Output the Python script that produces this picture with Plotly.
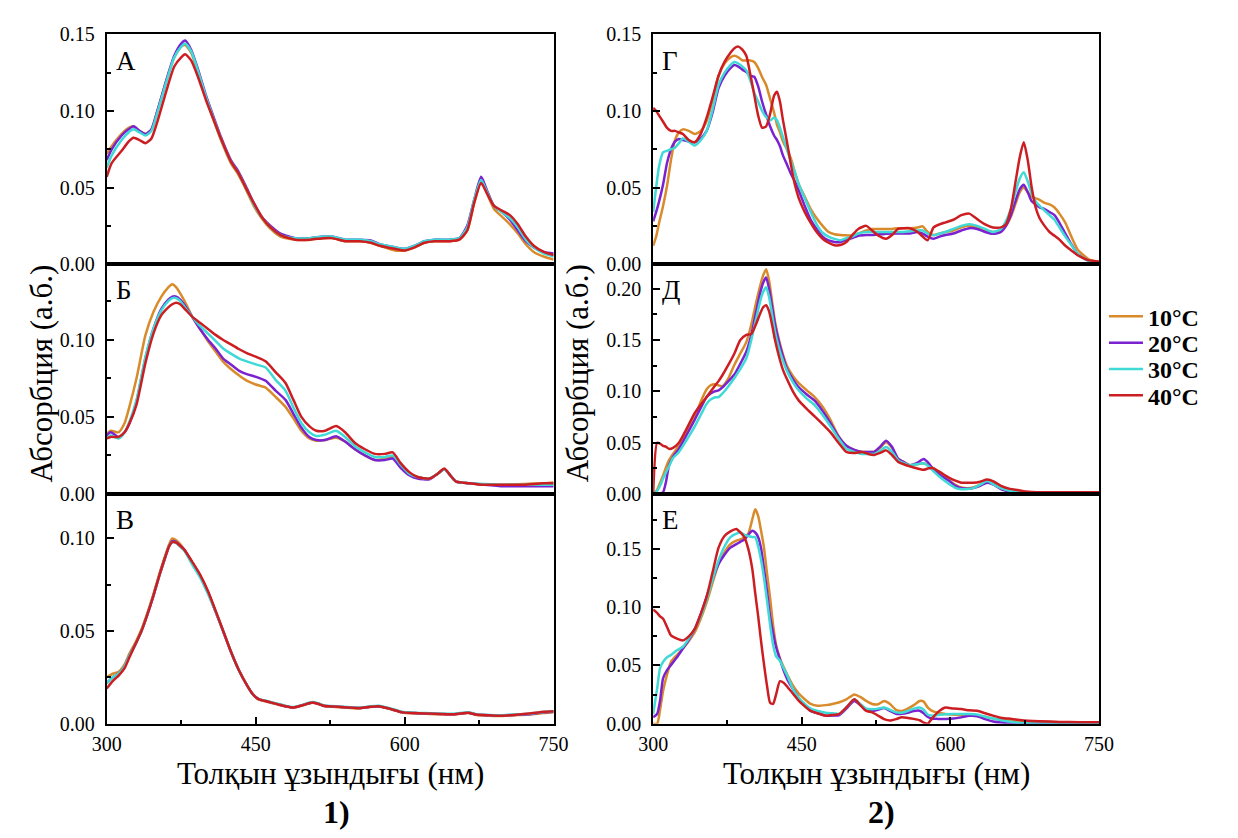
import plotly.graph_objects as go

# ---------------- data ----------------
TEMPS = ["10°C", "20°C", "30°C", "40°C"]
COLORS = ["#D98B2B", "#7B22D0", "#3FD9D6", "#CC1E22"]

# Panel А
WL_A = [300, 305, 315, 322, 327, 333, 339, 345, 351, 360, 368, 375, 379, 385, 392, 400, 406, 415, 425, 433,
        440, 448, 456, 465, 475, 490, 505, 518, 527, 540, 555, 566, 575, 590, 600, 610, 620, 630, 645, 655,
        663, 670, 677, 683, 690, 698, 706, 714, 722, 730, 740, 750]
A_10 = [0.072, 0.077, 0.085, 0.089, 0.090, 0.087, 0.085, 0.088, 0.100, 0.120, 0.135, 0.142, 0.143, 0.138, 0.125, 0.108, 0.097, 0.081, 0.066, 0.058,
        0.049, 0.038, 0.030, 0.023, 0.018, 0.016, 0.016, 0.017, 0.017, 0.015, 0.015, 0.014, 0.012, 0.009, 0.009, 0.011, 0.014, 0.015, 0.015, 0.016,
        0.022, 0.040, 0.054, 0.046, 0.036, 0.031, 0.026, 0.020, 0.013, 0.008, 0.005, 0.003]
A_20 = [0.068, 0.075, 0.084, 0.088, 0.090, 0.087, 0.085, 0.088, 0.100, 0.120, 0.136, 0.144, 0.146, 0.140, 0.127, 0.110, 0.099, 0.083, 0.068, 0.060,
        0.051, 0.040, 0.031, 0.025, 0.020, 0.017, 0.017, 0.018, 0.018, 0.016, 0.016, 0.0155, 0.013, 0.011, 0.010, 0.012, 0.015, 0.016, 0.016, 0.017,
        0.025, 0.042, 0.057, 0.048, 0.038, 0.034, 0.029, 0.022, 0.015, 0.011, 0.008, 0.007]
A_30 = [0.063, 0.071, 0.081, 0.086, 0.088, 0.086, 0.084, 0.087, 0.099, 0.119, 0.135, 0.142, 0.144, 0.139, 0.126, 0.109, 0.098, 0.082, 0.067, 0.059,
        0.050, 0.039, 0.031, 0.024, 0.019, 0.017, 0.017, 0.018, 0.018, 0.016, 0.016, 0.015, 0.013, 0.011, 0.010, 0.012, 0.015, 0.016, 0.016, 0.017,
        0.024, 0.042, 0.055, 0.047, 0.038, 0.034, 0.030, 0.024, 0.016, 0.011, 0.007, 0.005]
A_40 = [0.057, 0.066, 0.074, 0.080, 0.0825, 0.081, 0.079, 0.082, 0.093, 0.113, 0.129, 0.135, 0.137, 0.133, 0.122, 0.107, 0.097, 0.082, 0.067, 0.059,
        0.050, 0.040, 0.031, 0.024, 0.019, 0.016, 0.016, 0.017, 0.017, 0.015, 0.015, 0.014, 0.012, 0.010, 0.009, 0.011, 0.014, 0.015, 0.015, 0.016,
        0.022, 0.040, 0.053, 0.046, 0.038, 0.035, 0.032, 0.026, 0.018, 0.012, 0.008, 0.006]

# Panel Б
WL_B = [300, 304, 312, 318, 323, 330, 339, 347, 355, 362, 366, 370, 374, 380, 386, 394, 402, 410, 417, 425,
        433, 441, 450, 460, 470, 480, 488, 496, 504, 511, 520, 531, 540, 550, 560, 570, 580, 588, 596, 605,
        613, 625, 633, 640, 646, 652, 665, 680, 700, 720, 740, 750]
B_10 = [0.039, 0.041, 0.040, 0.046, 0.057, 0.075, 0.103, 0.118, 0.128, 0.134, 0.136, 0.134, 0.130, 0.123, 0.115, 0.107, 0.099, 0.092, 0.086, 0.081,
        0.077, 0.0735, 0.071, 0.069, 0.063, 0.0565, 0.049, 0.041, 0.036, 0.0345, 0.035, 0.0365, 0.034, 0.029, 0.025, 0.022, 0.023, 0.024, 0.018, 0.013,
        0.011, 0.010, 0.013, 0.016, 0.012, 0.008, 0.007, 0.006, 0.006, 0.0065, 0.007, 0.0075]
B_20 = [0.038, 0.040, 0.037, 0.040, 0.046, 0.060, 0.088, 0.107, 0.120, 0.126, 0.128, 0.128, 0.126, 0.121, 0.115, 0.107, 0.100, 0.094, 0.088, 0.084,
        0.080, 0.0777, 0.076, 0.0734, 0.067, 0.061, 0.052, 0.043, 0.037, 0.035, 0.035, 0.0375, 0.034, 0.029, 0.025, 0.022, 0.022, 0.023, 0.017, 0.012,
        0.010, 0.0095, 0.013, 0.016, 0.012, 0.008, 0.007, 0.006, 0.005, 0.005, 0.005, 0.005]
B_30 = [0.036, 0.038, 0.036, 0.040, 0.047, 0.061, 0.089, 0.107, 0.119, 0.125, 0.127, 0.127, 0.125, 0.120, 0.115, 0.109, 0.104, 0.099, 0.0945, 0.091,
        0.088, 0.086, 0.084, 0.082, 0.074, 0.067, 0.056, 0.046, 0.040, 0.0376, 0.0385, 0.041, 0.037, 0.031, 0.027, 0.024, 0.024, 0.025, 0.019, 0.013,
        0.011, 0.010, 0.013, 0.016, 0.012, 0.008, 0.007, 0.0065, 0.006, 0.006, 0.006, 0.006]
B_40 = [0.036, 0.037, 0.037, 0.040, 0.046, 0.058, 0.085, 0.104, 0.116, 0.121, 0.123, 0.124, 0.123, 0.119, 0.115, 0.111, 0.107, 0.103, 0.100, 0.097,
        0.094, 0.0914, 0.089, 0.086, 0.079, 0.072, 0.061, 0.050, 0.044, 0.041, 0.041, 0.044, 0.040, 0.033, 0.029, 0.026, 0.026, 0.027, 0.020, 0.014,
        0.011, 0.010, 0.013, 0.0165, 0.012, 0.008, 0.007, 0.006, 0.006, 0.006, 0.007, 0.007]

# Panel В
WL_V = [300, 306, 312, 318, 323, 329, 335, 341, 347, 353, 359, 363, 366, 370, 374, 378, 386, 394, 402, 410,
        418, 425, 433, 441, 447, 453, 462, 472, 480, 488, 497, 507, 513, 519, 530, 543, 555, 565, 574, 585,
        597, 610, 625, 636, 650, 664, 672, 685, 695, 710, 725, 740, 750]
V_10 = [0.025, 0.027, 0.028, 0.032, 0.038, 0.044, 0.051, 0.060, 0.070, 0.081, 0.091, 0.097, 0.100, 0.099, 0.097, 0.094, 0.087, 0.080, 0.071, 0.060,
        0.049, 0.039, 0.029, 0.021, 0.016, 0.0130, 0.0118, 0.0104, 0.0093, 0.0086, 0.0098, 0.0113, 0.0106, 0.0095, 0.0091, 0.0086, 0.0083, 0.0090, 0.0093, 0.0080,
        0.0061, 0.0056, 0.0053, 0.0051, 0.0050, 0.0058, 0.0048, 0.0044, 0.0042, 0.0046, 0.0050, 0.0058, 0.0062]
V_20 = [0.022, 0.025, 0.027, 0.031, 0.037, 0.043, 0.050, 0.059, 0.069, 0.080, 0.090, 0.096, 0.0985, 0.098, 0.096, 0.094, 0.087, 0.080, 0.071, 0.060,
        0.049, 0.039, 0.029, 0.021, 0.016, 0.0133, 0.012, 0.0106, 0.0095, 0.0088, 0.010, 0.0115, 0.0108, 0.0097, 0.0093, 0.0088, 0.0085, 0.0092, 0.0095, 0.0082,
        0.0063, 0.0058, 0.0055, 0.0053, 0.0052, 0.006, 0.005, 0.0046, 0.0044, 0.0048, 0.0052, 0.0062, 0.0065]
V_30 = [0.022, 0.025, 0.027, 0.031, 0.037, 0.043, 0.050, 0.059, 0.069, 0.080, 0.090, 0.096, 0.098, 0.0975, 0.0955, 0.0935, 0.086, 0.079, 0.070, 0.060,
        0.049, 0.039, 0.029, 0.021, 0.016, 0.0135, 0.0122, 0.0108, 0.0097, 0.0090, 0.0102, 0.0117, 0.011, 0.0099, 0.0095, 0.009, 0.0087, 0.0094, 0.0097, 0.0084,
        0.0065, 0.006, 0.0057, 0.0055, 0.0054, 0.0062, 0.0052, 0.0048, 0.0046, 0.005, 0.0054, 0.0064, 0.0067]
V_40 = [0.019, 0.023, 0.026, 0.030, 0.036, 0.043, 0.050, 0.059, 0.069, 0.080, 0.090, 0.096, 0.098, 0.0978, 0.096, 0.094, 0.0875, 0.0805, 0.0715, 0.0605,
        0.049, 0.039, 0.029, 0.021, 0.016, 0.0133, 0.012, 0.0106, 0.0095, 0.0088, 0.010, 0.0115, 0.0108, 0.0097, 0.0093, 0.0088, 0.0085, 0.0092, 0.0095, 0.0082,
        0.0063, 0.0058, 0.0055, 0.0053, 0.0052, 0.006, 0.005, 0.0046, 0.0044, 0.0048, 0.0055, 0.0065, 0.0068]

# Panel Г
WL_G = [300, 303, 306, 310, 314, 318, 322, 326, 330, 336, 342, 348, 354, 360, 366, 372, 378, 382, 386, 390,
        394, 398, 402, 406, 410, 414, 418, 422, 425, 428, 431, 435, 439, 443, 447, 453, 459, 465, 471, 477,
        483, 489, 495, 501, 507, 515, 521, 527, 535, 541, 547, 553, 559, 567, 572, 577, 583, 589, 595, 603,
        611, 619, 627, 635, 643, 651, 656, 661, 666, 670, 674, 678, 682, 686, 690, 695, 700, 705, 710, 716,
        722, 728, 734, 740, 745, 750]
G_10 = [0.012, 0.018, 0.027, 0.038, 0.051, 0.068, 0.081, 0.086, 0.088, 0.087, 0.085, 0.087, 0.0935, 0.107, 0.123, 0.131, 0.135, 0.136, 0.135, 0.133,
        0.133, 0.133, 0.132, 0.128, 0.122, 0.117, 0.108, 0.099, 0.091, 0.086, 0.080, 0.075, 0.069, 0.060, 0.052, 0.044, 0.036, 0.030, 0.025, 0.021,
        0.0195, 0.019, 0.0188, 0.0188, 0.020, 0.022, 0.023, 0.023, 0.023, 0.023, 0.0235, 0.0235, 0.0235, 0.024, 0.0247, 0.021, 0.019, 0.020, 0.021, 0.022,
        0.024, 0.025, 0.024, 0.022, 0.021, 0.022, 0.025, 0.031, 0.040, 0.047, 0.050, 0.047, 0.044, 0.043, 0.042, 0.040, 0.039, 0.037, 0.033, 0.027,
        0.018, 0.010, 0.006, 0.003, 0.002, 0.0013]
G_20 = [0.028, 0.034, 0.041, 0.052, 0.066, 0.075, 0.080, 0.0817, 0.081, 0.080, 0.0796, 0.082, 0.087, 0.099, 0.115, 0.123, 0.128, 0.130, 0.129, 0.127,
        0.1255, 0.123, 0.1223, 0.116, 0.106, 0.0977, 0.090, 0.084, 0.081, 0.077, 0.071, 0.065, 0.059, 0.054, 0.048, 0.038, 0.029, 0.023, 0.018, 0.0155,
        0.0145, 0.0145, 0.016, 0.017, 0.0185, 0.019, 0.019, 0.0195, 0.0198, 0.020, 0.020, 0.020, 0.020, 0.021, 0.020, 0.018, 0.0166, 0.018, 0.019, 0.020,
        0.022, 0.0235, 0.023, 0.021, 0.0198, 0.021, 0.025, 0.032, 0.042, 0.049, 0.0518, 0.047, 0.041, 0.039, 0.037, 0.036, 0.034, 0.032, 0.027, 0.020,
        0.013, 0.007, 0.004, 0.002, 0.001, 0.0006]
G_30 = [0.034, 0.050, 0.064, 0.073, 0.074, 0.075, 0.076, 0.079, 0.082, 0.080, 0.0775, 0.081, 0.087, 0.101, 0.117, 0.125, 0.130, 0.132, 0.131, 0.129,
        0.1265, 0.120, 0.112, 0.106, 0.100, 0.096, 0.094, 0.0956, 0.094, 0.089, 0.083, 0.075, 0.067, 0.060, 0.052, 0.043, 0.034, 0.026, 0.0205, 0.018,
        0.0165, 0.0156, 0.017, 0.018, 0.020, 0.021, 0.021, 0.021, 0.021, 0.021, 0.021, 0.021, 0.0215, 0.022, 0.022, 0.020, 0.0188, 0.020, 0.021, 0.023,
        0.025, 0.026, 0.025, 0.023, 0.021, 0.023, 0.028, 0.036, 0.048, 0.056, 0.060, 0.054, 0.046, 0.041, 0.038, 0.035, 0.032, 0.029, 0.024, 0.018,
        0.0125, 0.007, 0.004, 0.002, 0.001, 0.0006]
G_40 = [0.102, 0.100, 0.097, 0.093, 0.089, 0.087, 0.087, 0.086, 0.085, 0.081, 0.0796, 0.085, 0.0956, 0.109, 0.123, 0.132, 0.138, 0.141, 0.142, 0.140,
        0.136, 0.124, 0.1105, 0.097, 0.089, 0.090, 0.098, 0.110, 0.1126, 0.106, 0.094, 0.080, 0.065, 0.052, 0.043, 0.034, 0.027, 0.021, 0.0166, 0.014,
        0.0124, 0.0125, 0.0145, 0.019, 0.023, 0.025, 0.022, 0.0188, 0.0166, 0.019, 0.023, 0.0235, 0.0235, 0.021, 0.018, 0.0156, 0.024, 0.026, 0.0273, 0.029,
        0.032, 0.033, 0.0294, 0.026, 0.024, 0.024, 0.026, 0.036, 0.055, 0.070, 0.0796, 0.068, 0.050, 0.037, 0.030, 0.025, 0.021, 0.0185, 0.016, 0.012,
        0.009, 0.006, 0.004, 0.0025, 0.002, 0.0017]

# Panel Д
WL_D = [300, 304, 307, 310, 313, 316, 320, 326, 334, 342, 348, 354, 358, 362, 366, 370, 376, 382, 388, 394,
        399, 404, 408, 411, 414, 417, 420, 423, 427, 431, 435, 441, 447, 455, 463, 471, 479, 487, 495, 503,
        511, 517, 523, 529, 535, 541, 547, 553, 559, 566, 573, 578, 583, 590, 599, 605, 611, 617, 623, 630,
        637, 644, 651, 660, 668, 676, 688, 700, 720, 750]
D_10 = [0.0, 0.004, 0.011, 0.018, 0.026, 0.033, 0.039, 0.047, 0.060, 0.0756, 0.090, 0.102, 0.106, 0.107, 0.106, 0.105, 0.113, 0.126, 0.137, 0.148,
        0.165, 0.187, 0.203, 0.213, 0.219, 0.208, 0.188, 0.168, 0.150, 0.136, 0.125, 0.115, 0.108, 0.101, 0.0945, 0.085, 0.072, 0.0567, 0.047, 0.043,
        0.041, 0.041, 0.041, 0.045, 0.0504, 0.045, 0.0346, 0.031, 0.028, 0.029, 0.030, 0.028, 0.025, 0.020, 0.013, 0.009, 0.0063, 0.0055, 0.0063, 0.009,
        0.0126, 0.010, 0.007, 0.004, 0.002, 0.0012, 0.001, 0.001, 0.001, 0.001]
D_20 = [0.0, 0.0, 0.0005, 0.0016, 0.012, 0.028, 0.036, 0.044, 0.058, 0.0724, 0.084, 0.0945, 0.098, 0.100, 0.101, 0.104, 0.110, 0.1165, 0.127, 0.1386,
        0.155, 0.178, 0.196, 0.206, 0.211, 0.200, 0.183, 0.165, 0.148, 0.134, 0.122, 0.112, 0.104, 0.097, 0.091, 0.081, 0.069, 0.056, 0.047, 0.043,
        0.041, 0.041, 0.041, 0.046, 0.052, 0.046, 0.0346, 0.031, 0.028, 0.030, 0.034, 0.030, 0.0236, 0.018, 0.0126, 0.008, 0.0057, 0.0052, 0.0057, 0.008,
        0.011, 0.009, 0.0047, 0.002, 0.0006, 0.0, 0.0, 0.0, 0.0, 0.0]
D_30 = [0.0, 0.003, 0.008, 0.015, 0.021, 0.027, 0.035, 0.041, 0.053, 0.066, 0.077, 0.088, 0.092, 0.094, 0.0945, 0.098, 0.105, 0.113, 0.122, 0.132,
        0.150, 0.171, 0.188, 0.197, 0.2016, 0.192, 0.175, 0.158, 0.142, 0.130, 0.120, 0.109, 0.1008, 0.093, 0.0866, 0.077, 0.066, 0.054, 0.044, 0.041,
        0.039, 0.039, 0.039, 0.042, 0.0457, 0.041, 0.033, 0.030, 0.028, 0.029, 0.030, 0.027, 0.022, 0.016, 0.0094, 0.006, 0.0047, 0.0048, 0.0057, 0.009,
        0.0126, 0.009, 0.0057, 0.003, 0.0016, 0.0005, 0.0, 0.0, 0.0, 0.0]
D_40 = [0.0, 0.050, 0.049, 0.047, 0.046, 0.044, 0.045, 0.050, 0.064, 0.079, 0.087, 0.0945, 0.100, 0.105, 0.110, 0.116, 0.126, 0.137, 0.150, 0.155,
        0.156, 0.166, 0.176, 0.182, 0.184, 0.178, 0.165, 0.150, 0.134, 0.121, 0.112, 0.100, 0.091, 0.083, 0.0756, 0.068, 0.060, 0.050, 0.041, 0.040,
        0.041, 0.039, 0.038, 0.040, 0.0425, 0.038, 0.0315, 0.029, 0.027, 0.025, 0.0236, 0.025, 0.025, 0.021, 0.0157, 0.013, 0.011, 0.011, 0.011, 0.012,
        0.014, 0.012, 0.0079, 0.005, 0.0038, 0.0025, 0.0016, 0.0016, 0.0016, 0.0016]

# Panel Е
WL_E = [300, 304, 307, 310, 314, 318, 324, 330, 336, 342, 348, 354, 360, 366, 372, 378, 384, 388, 392, 396,
        400, 403, 406, 409, 412, 415, 418, 421, 424, 428, 432, 436, 441, 447, 453, 459, 466, 474, 481, 488,
        495, 503, 509, 515, 521, 527, 533, 539, 545, 551, 557, 563, 569, 573, 577, 581, 587, 595, 603, 611,
        619, 627, 635, 643, 652, 662, 672, 690, 710, 730, 750]
E_10 = [0.0, 0.0, 0.012, 0.028, 0.042, 0.053, 0.059, 0.0645, 0.071, 0.0785, 0.090, 0.104, 0.121, 0.137, 0.147, 0.154, 0.157, 0.158, 0.160, 0.163,
        0.175, 0.184, 0.178, 0.165, 0.150, 0.128, 0.108, 0.085, 0.068, 0.056, 0.048, 0.041, 0.033, 0.026, 0.021, 0.017, 0.0154, 0.016, 0.017, 0.0185,
        0.021, 0.0252, 0.023, 0.0196, 0.017, 0.0168, 0.0196, 0.017, 0.012, 0.011, 0.013, 0.016, 0.0196, 0.019, 0.014, 0.0112, 0.0095, 0.0084, 0.0078, 0.0072,
        0.007, 0.007, 0.006, 0.0045, 0.0035, 0.0025, 0.002, 0.0016, 0.0014, 0.0014, 0.0014]
E_20 = [0.0056, 0.0084, 0.020, 0.039, 0.046, 0.0505, 0.057, 0.0645, 0.072, 0.0813, 0.094, 0.109, 0.124, 0.137, 0.145, 0.151, 0.154, 0.156, 0.158, 0.162,
        0.1655, 0.164, 0.160, 0.150, 0.132, 0.113, 0.092, 0.078, 0.066, 0.055, 0.045, 0.037, 0.030, 0.022, 0.016, 0.011, 0.009, 0.007, 0.007, 0.0075,
        0.013, 0.0196, 0.016, 0.012, 0.011, 0.012, 0.0135, 0.011, 0.0085, 0.0085, 0.0095, 0.011, 0.0112, 0.009, 0.006, 0.0045, 0.0042, 0.0042, 0.0045, 0.0055,
        0.0068, 0.0065, 0.004, 0.002, 0.001, 0.0006, 0.0, 0.0, 0.0, 0.0, 0.0]
E_30 = [0.0084, 0.030, 0.048, 0.053, 0.057, 0.059, 0.063, 0.066, 0.073, 0.0813, 0.092, 0.1066, 0.124, 0.140, 0.152, 0.160, 0.163, 0.164, 0.162, 0.161,
        0.160, 0.160, 0.152, 0.140, 0.124, 0.105, 0.085, 0.068, 0.058, 0.054, 0.047, 0.040, 0.030, 0.022, 0.017, 0.013, 0.011, 0.0095, 0.009, 0.0085,
        0.014, 0.021, 0.017, 0.013, 0.0125, 0.013, 0.014, 0.012, 0.0098, 0.0095, 0.011, 0.013, 0.014, 0.012, 0.008, 0.007, 0.0075, 0.0082, 0.0084, 0.0084,
        0.0084, 0.008, 0.006, 0.0045, 0.003, 0.0015, 0.0006, 0.0, 0.0, 0.0, 0.0]
E_40 = [0.098, 0.095, 0.092, 0.090, 0.083, 0.0757, 0.073, 0.0715, 0.075, 0.0813, 0.094, 0.109, 0.130, 0.151, 0.161, 0.165, 0.167, 0.164, 0.160, 0.150,
        0.133, 0.112, 0.092, 0.070, 0.050, 0.032, 0.018, 0.017, 0.025, 0.0365, 0.035, 0.031, 0.026, 0.0196, 0.015, 0.011, 0.009, 0.007, 0.0075, 0.0085,
        0.014, 0.021, 0.016, 0.011, 0.0098, 0.007, 0.004, 0.0028, 0.004, 0.0056, 0.005, 0.0042, 0.003, 0.001, 0.0, 0.004, 0.0098, 0.014, 0.013, 0.0126,
        0.0115, 0.0112, 0.009, 0.007, 0.005, 0.0042, 0.003, 0.0022, 0.0016, 0.0014, 0.0014]

PANEL_LETTERS = ["А", "Б", "В", "Г", "Д", "Е"]
Y_TOPS = [0.15, 0.149, 0.124, 0.15, 0.224, 0.197]
Y_TICKS = [[0, 0.05, 0.10, 0.15], [0, 0.05, 0.10], [0, 0.05, 0.10],
           [0, 0.05, 0.10, 0.15], [0, 0.05, 0.10, 0.15, 0.20], [0, 0.05, 0.10, 0.15]]
X_TICKS = [300, 450, 600, 750]

panels = [
    (WL_A, [A_10, A_20, A_30, A_40]),
    (WL_B, [B_10, B_20, B_30, B_40]),
    (WL_V, [V_10, V_20, V_30, V_40]),
    (WL_G, [G_10, G_20, G_30, G_40]),
    (WL_D, [D_10, D_20, D_30, D_40]),
    (WL_E, [E_10, E_20, E_30, E_40]),
]

for wl, series in panels:
    for s in series:
        if len(s) != len(wl):
            raise ValueError("series length mismatch")

# ---------------- layout geometry ----------------
W, H = 1238, 838
COL_X = [(94, 552), (654, 1111)]
ROW_Y = [(24, 260), (260, 496), (496, 732)]
LEGEND_ROWS = [314, 341, 368, 395]   # vertical centres of the legend entries (px)
LEGEND_IDS = ["legend", "legend2", "legend3", "legend4"]


def px_x(v):
    return v / W


def px_y(v):
    return 1 - v / H


FONT = "Liberation Serif, Times New Roman, serif"
fig = go.Figure()

for i, (wl, series) in enumerate(panels):
    col, row = divmod(i, 3)
    n = i + 1
    xa = "x" if n == 1 else f"x{n}"
    ya = "y" if n == 1 else f"y{n}"
    for k, vals in enumerate(series):
        fig.add_trace(go.Scatter(
            x=wl, y=vals, mode="lines", xaxis=xa, yaxis=ya,
            name=f"<b>{TEMPS[k]}</b>", legend=LEGEND_IDS[k],
            legendgroup=TEMPS[k], showlegend=(i == 0),
            line=dict(color=COLORS[k], width=2.5, shape="spline", smoothing=0.6),
            hoverinfo="skip",
        ))

    x0, x1 = COL_X[col]
    y0, y1 = ROW_Y[row]
    bottom = row == 2
    xkey = "xaxis" if n == 1 else f"xaxis{n}"
    ykey = "yaxis" if n == 1 else f"yaxis{n}"
    fig.update_layout({
        xkey: dict(
            domain=[px_x(x0), px_x(x1)], anchor=ya, range=[300, 750],
            showline=True, linecolor="black", linewidth=2, mirror=True,
            showgrid=False, zeroline=False,
            tickmode="array", tickvals=X_TICKS, showticklabels=bottom,
            ticks="inside" if bottom else "", ticklen=7, tickwidth=1.5, tickcolor="black",
            minor=dict(ticks="inside" if bottom else "", ticklen=4, tickwidth=1.5,
                       tickcolor="black", tickvals=[375, 525, 675]),
            tickfont=dict(family=FONT, size=20, color="black"),
            ticklabelstandoff=1,
        ),
        ykey: dict(
            domain=[px_y(y1), px_y(y0)], anchor=xa, range=[0, Y_TOPS[i]],
            showline=True, linecolor="black", linewidth=2, mirror=True,
            showgrid=False, zeroline=False,
            tickmode="array", tickvals=Y_TICKS[i], tickformat=".2f",
            ticks="inside", ticklen=7, tickwidth=1.5, tickcolor="black",
            minor=dict(ticks="inside", ticklen=4, tickwidth=1.5, tickcolor="black",
                       tickvals=[0.025, 0.075, 0.125, 0.175, 0.225]),
            tickfont=dict(family=FONT, size=20, color="black"),
            ticklabelstandoff=6,
        ),
    })

annotations = []
for i, letter in enumerate(PANEL_LETTERS):
    col, row = divmod(i, 3)
    annotations.append(dict(
        text=letter, x=px_x(COL_X[col][0] + 7), y=px_y(ROW_Y[row][0] + 27),
        xref="paper", yref="paper", xanchor="left", yanchor="middle", showarrow=False,
        font=dict(family=FONT, size=27, color="black"),
    ))

for cx in (27, 576):
    annotations.append(dict(
        text="Абсорбция (а.б.)", x=px_x(cx), y=px_y(372), textangle=-90,
        xref="paper", yref="paper", xanchor="center", yanchor="middle", showarrow=False,
        font=dict(family=FONT, size=31, color="black"),
    ))

for (x0, x1), tag in zip(COL_X, ["1)", "2)"]):
    annotations.append(dict(
        text="Толқын ұзындығы (нм)", x=px_x((x0 + x1) / 2), y=px_y(764),
        xref="paper", yref="paper", xanchor="center", yanchor="top", showarrow=False,
        font=dict(family=FONT, size=31, color="black"), borderpad=0,
    ))
    annotations.append(dict(
        text=f"<b>{tag}</b>", x=px_x((x0 + x1) / 2 + 6), y=px_y(823),
        xref="paper", yref="paper", xanchor="center", yanchor="middle", showarrow=False,
        font=dict(family=FONT, size=32, color="black"),
    ))

legend_style = dict(
    x=px_x(1116), xanchor="left", yanchor="middle",
    bgcolor="rgba(0,0,0,0)", borderwidth=0,
    font=dict(family=FONT, size=24, color="black"),
    itemwidth=34,
)
legend_layout = {lid: dict(legend_style, y=px_y(yc)) for lid, yc in zip(LEGEND_IDS, LEGEND_ROWS)}

fig.update_layout(
    width=W, height=H, autosize=False,
    margin=dict(l=0, r=0, t=0, b=0),
    paper_bgcolor="white", plot_bgcolor="white",
    annotations=annotations,
    showlegend=True,
    **legend_layout,
)

fig.write_html("out.html")
